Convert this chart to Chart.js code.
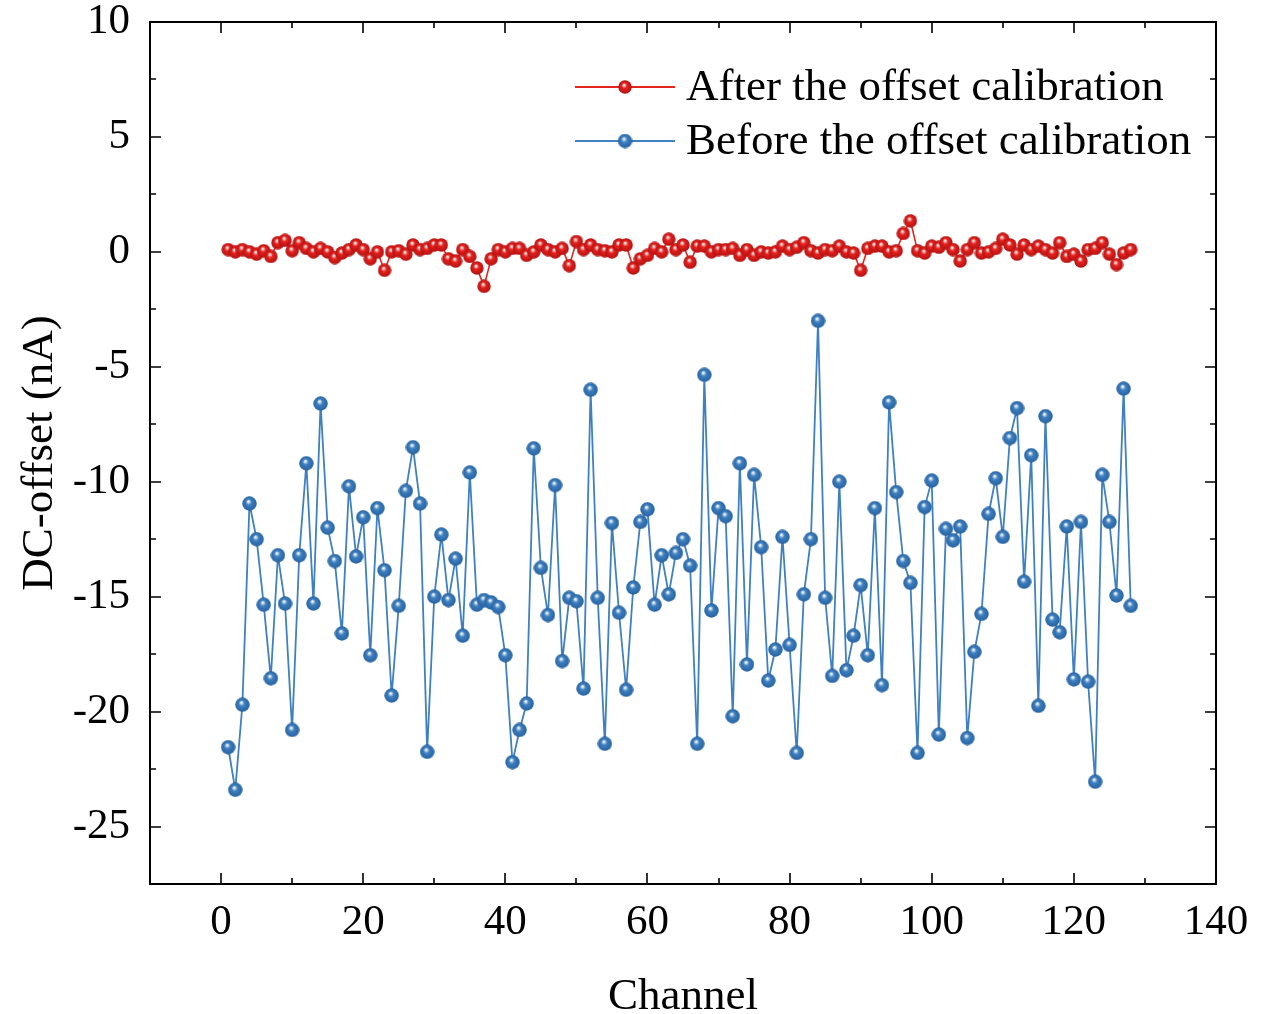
<!DOCTYPE html>
<html>
<head>
<meta charset="utf-8">
<script src="https://cdn.jsdelivr.net/npm/chart.js@4.4.1/dist/chart.umd.min.js"></script>
<style>
  html, body { margin: 0; padding: 0; background: #fff; }
</style>
</head>
<body>
<canvas id="chart" width="1269" height="1014"></canvas>
<script>
// ===== DATA =====
const channels = [
  1, 2, 3, 4, 5, 6, 7, 8, 9, 10, 11, 12, 13, 14, 15, 16,
  17, 18, 19, 20, 21, 22, 23, 24, 25, 26, 27, 28, 29, 30, 31, 32,
  33, 34, 35, 36, 37, 38, 39, 40, 41, 42, 43, 44, 45, 46, 47, 48,
  49, 50, 51, 52, 53, 54, 55, 56, 57, 58, 59, 60, 61, 62, 63, 64,
  65, 66, 67, 68, 69, 70, 71, 72, 73, 74, 75, 76, 77, 78, 79, 80,
  81, 82, 83, 84, 85, 86, 87, 88, 89, 90, 91, 92, 93, 94, 95, 96,
  97, 98, 99, 100, 101, 102, 103, 104, 105, 106, 107, 108, 109, 110, 111, 112,
  113, 114, 115, 116, 117, 118, 119, 120, 121, 122, 123, 124, 125, 126, 127, 128,
];

const afterCal = [
  0.1, 0, 0.1, 0, -0.1, 0.05, -0.2, 0.4, 0.5, 0.05, 0.4, 0.15, 0, 0.15, 0, -0.25,
  -0.05, 0.1, 0.3, 0.1, -0.3, 0, -0.8, 0, 0.05, -0.1, 0.3, 0.1, 0.15, 0.3, 0.3, -0.3,
  -0.4, 0.1, -0.2, -0.7, -1.5, -0.3, 0.1, 0, 0.15, 0.15, -0.15, 0, 0.3, 0.1, 0, 0.15,
  -0.6, 0.45, 0.1, 0.3, 0.1, 0.05, 0, 0.3, 0.3, -0.7, -0.3, -0.15, 0.15, 0, 0.55, 0.1,
  0.3, -0.45, 0.25, 0.25, 0, 0.1, 0.1, 0.15, -0.15, 0.1, -0.15, 0, -0.05, 0, 0.25, 0.1,
  0.2, 0.4, 0.05, -0.05, 0.1, 0.05, 0.25, 0, -0.05, -0.8, 0.15, 0.25, 0.25, 0, 0.05, 0.8,
  1.35, 0.05, -0.05, 0.25, 0.2, 0.4, 0.1, -0.4, 0.1, 0.4, -0.05, 0, 0.15, 0.55, 0.3, -0.1,
  0.3, 0.1, 0.25, 0.1, -0.05, 0.4, -0.2, -0.1, -0.4, 0.1, 0.15, 0.4, -0.1, -0.55, -0.05, 0.1,
];

const beforeCal = [
  -21.55, -23.4, -19.7, -10.95, -12.5, -15.35, -18.55, -13.2, -15.3, -20.8, -13.2, -9.2, -15.3, -6.6, -12.0, -13.45,
  -16.6, -10.2, -13.25, -11.55, -17.55, -11.15, -13.85, -19.3, -15.4, -10.4, -8.5, -10.95, -21.75, -15.0, -12.3, -15.15,
  -13.35, -16.7, -9.6, -15.35, -15.15, -15.25, -15.45, -17.55, -22.2, -20.8, -19.65, -8.55, -13.75, -15.8, -10.15, -17.8,
  -15.05, -15.2, -19.0, -6.0, -15.05, -21.4, -11.8, -15.7, -19.05, -14.6, -11.75, -11.2, -15.35, -13.2, -14.9, -13.1,
  -12.5, -13.65, -21.4, -5.35, -15.6, -11.15, -11.5, -20.2, -9.2, -17.95, -9.7, -12.85, -18.65, -17.3, -12.4, -17.1,
  -21.8, -14.9, -12.5, -3.0, -15.05, -18.45, -10.0, -18.2, -16.7, -14.5, -17.55, -11.15, -18.85, -6.55, -10.45, -13.45,
  -14.4, -21.8, -11.1, -9.95, -21.0, -12.05, -12.55, -11.95, -21.15, -17.4, -15.75, -11.4, -9.85, -12.4, -8.1, -6.8,
  -14.35, -8.85, -19.75, -7.15, -16.0, -16.55, -11.95, -18.6, -11.75, -18.7, -23.05, -9.7, -11.75, -14.95, -5.95, -15.4,
];

const xTicks = [0, 20, 40, 60, 80, 100, 120, 140];
const yTicks = [10, 5, 0, -5, -10, -15, -20, -25];
const seriesNames = ["After the offset calibration", "Before the offset calibration"];

// ===== STYLE =====
const FONT = "'Liberation Serif', 'Times New Roman', serif";
const RED = "#e5231f";
const BLUE = "#3f80c0";

// kleine Kugel als Marker
function makeBall(color, dark, d) {
  const c = document.createElement("canvas");
  c.width = d;
  c.height = d;
  const g = c.getContext("2d");
  const r = d / 2;
  const grad = g.createRadialGradient(r * 0.85, r * 0.7, r * 0.05, r, r, r);
  grad.addColorStop(0, "#ffffff");
  grad.addColorStop(0.35, color);
  grad.addColorStop(1, dark);
  g.fillStyle = grad;
  g.beginPath();
  g.arc(r, r, r - 0.3, 0, Math.PI * 2);
  g.fill();
  return c;
}
const redBall = makeBall(RED, "#b01010", 14);
const blueBall = makeBall(BLUE, "#24609e", 15);

// ===== FRAME + INWARD TICKS =====
const framePlugin = {
  id: "frame",
  afterDraw(chart) {
    const { ctx, chartArea: a, scales } = chart;
    const xs = scales.x, ys = scales.y;
    ctx.save();
    ctx.strokeStyle = "#000";
    ctx.lineWidth = 2;
    ctx.strokeRect(a.left, a.top, a.right - a.left, a.bottom - a.top);
    ctx.lineWidth = 1.6;
    ctx.beginPath();
    const xStep = xTicks[1] - xTicks[0];
    for (let v = xs.min; v <= xs.max + 1e-9; v += xStep / 2) {
      const major = xTicks.includes(v);
      const len = major ? 11 : 6;
      const px = Math.round(xs.getPixelForValue(v));
      if (px <= a.left + 1 || px >= a.right - 1) continue;
      ctx.moveTo(px, a.bottom); ctx.lineTo(px, a.bottom - len);
      ctx.moveTo(px, a.top); ctx.lineTo(px, a.top + len);
    }
    const yStep = yTicks[0] - yTicks[1];
    for (let v = ys.max; v >= ys.min - 1e-9; v -= yStep / 2) {
      const major = yTicks.includes(v);
      const len = major ? 11 : 6;
      const py = Math.round(ys.getPixelForValue(v));
      if (py <= a.top + 1 || py >= a.bottom - 1) continue;
      ctx.moveTo(a.left, py); ctx.lineTo(a.left + len, py);
      ctx.moveTo(a.right, py); ctx.lineTo(a.right - len, py);
    }
    ctx.stroke();
    ctx.restore();
  },
};

// ===== LEGEND =====
const legendPlugin = {
  id: "legendBox",
  afterDraw(chart) {
    const { ctx } = chart;
    const rows = [
      { name: seriesNames[0], color: RED, ball: redBall, y: 87 },
      { name: seriesNames[1], color: BLUE, ball: blueBall, y: 141 },
    ];
    ctx.save();
    rows.forEach((r) => {
      ctx.strokeStyle = r.color;
      ctx.lineWidth = 1.8;
      ctx.beginPath();
      ctx.moveTo(575, r.y);
      ctx.lineTo(675, r.y);
      ctx.stroke();
      ctx.drawImage(r.ball, 625 - r.ball.width / 2, r.y - r.ball.height / 2);
      ctx.fillStyle = "#000";
      ctx.font = "45px " + FONT;
      ctx.textBaseline = "middle";
      ctx.textAlign = "left";
      ctx.fillText(r.name, 686, r.y + 1);
    });
    ctx.restore();
  },
};

new Chart(document.getElementById("chart"), {
  type: "line",
  data: {
    datasets: [
      {
        label: seriesNames[0],
        data: channels.map((c, i) => ({ x: c, y: afterCal[i] })),
        borderColor: RED,
        borderWidth: 1.6,
        pointStyle: redBall,
        pointRadius: 7,
        tension: 0,
      },
      {
        label: seriesNames[1],
        data: channels.map((c, i) => ({ x: c, y: beforeCal[i] })),
        borderColor: BLUE,
        borderWidth: 1.8,
        pointStyle: blueBall,
        pointRadius: 7.5,
        tension: 0,
      },
    ],
  },
  options: {
    responsive: false,
    animation: false,
    devicePixelRatio: 1,
    layout: { padding: { top: 22, right: 53, left: 0, bottom: 0 } },
    plugins: {
      legend: { display: false },
      tooltip: { enabled: false },
    },
    scales: {
      x: {
        type: "linear",
        min: -10,
        max: 140,
        grid: { display: false, drawTicks: false },
        border: { display: false },
        afterBuildTicks: (s) => { s.ticks = xTicks.map((v) => ({ value: v })); },
        afterFit: (s) => {
          s.height = 130;
          s.paddingLeft = 0;
          s.paddingRight = 0;
        },
        ticks: {
          font: { family: FONT, size: 43 },
          color: "#000",
          padding: 13,
          maxRotation: 0,
        },
        title: {
          display: true,
          text: "Channel",
          color: "#000",
          font: { family: FONT, size: 45, lineHeight: 0.75 },
          padding: { top: 0, bottom: 0 },
        },
      },
      y: {
        type: "linear",
        min: -27.5,
        max: 10,
        grid: { display: false, drawTicks: false },
        border: { display: false },
        afterBuildTicks: (s) => { s.ticks = yTicks.map((v) => ({ value: v })); },
        afterFit: (s) => {
          s.width = 150;
          s.paddingTop = 0;
          s.paddingBottom = 0;
        },
        ticks: {
          font: { family: FONT, size: 43 },
          color: "#000",
          padding: 20,
        },
        title: {
          display: true,
          text: "DC-offset (nA)",
          color: "#000",
          font: { family: FONT, size: 45, lineHeight: 1 },
          padding: { top: 18, bottom: 0 },
        },
      },
    },
  },
  plugins: [framePlugin, legendPlugin],
});
</script>
</body>
</html>
